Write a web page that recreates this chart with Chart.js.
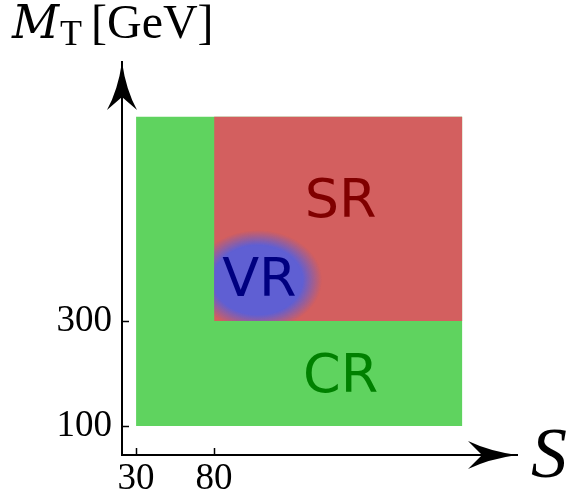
<!DOCTYPE html>
<html>
<head>
<meta charset="utf-8">
<script src="https://cdn.jsdelivr.net/npm/chart.js@4.4.0/dist/chart.umd.min.js"></script>
<style>
  html, body { margin: 0; padding: 0; background: #fff; }
</style>
</head>
<body>
<canvas id="regions" width="571" height="501"></canvas>
<script>
// axis ranges in data units (the arrow tips sit at the max)
const xRange = [21, 274];
const yRange = [45, 793];
const xTicks = [30, 80];
const yTicks = [100, 300];

// regions: [xMin, xMax, yMin, yMax]
const crBox = [30, 239, 100, 689];
const srBox = [80, 239, 300, 689];
const vrCenter = [108, 378];

// region names and where they are written
const labelText = ['SR', 'VR', 'CR'];
const labelX = [161, 109, 161];
const labelY = [525, 374, 191];

const GREEN = '#5fd35f';
const RED = '#d35f5f';
const labelColors = ['#800000', '#000080', '#008000'];

// soft elliptical glow used as the point style of the VR dataset
function makeGlow() {
    const c = document.createElement('canvas');
    c.width = 140;
    c.height = 112;
    const g = c.getContext('2d');
    g.translate(70, 56);
    g.scale(1, 42 / 54);
    const grad = g.createRadialGradient(0, 0, 0, 0, 0, 64);
    grad.addColorStop(0, 'rgba(95,95,211,1)');
    grad.addColorStop(0.7, 'rgba(95,95,211,1)');
    grad.addColorStop(1, 'rgba(95,95,211,0)');
    g.fillStyle = grad;
    g.fillRect(-70, -72, 140, 144);
    return c;
}

const decorations = {
    id: 'decorations',
    beforeDatasetDraw(chart, args) {
        if (args.index !== 2) return;
        // keep the VR glow inside the SR box
        const { x, y } = chart.scales;
        const ctx = chart.ctx;
        const l = x.getPixelForValue(srBox[0]), r = x.getPixelForValue(srBox[1]);
        const t = y.getPixelForValue(srBox[3]), b = y.getPixelForValue(srBox[2]);
        ctx.save();
        ctx.beginPath();
        ctx.rect(l, t, r - l, b - t);
        ctx.clip();
    },
    afterDatasetDraw(chart, args) {
        if (args.index === 2) chart.ctx.restore();
    },
    afterDraw(chart) {
        const ctx = chart.ctx;
        const { x, y } = chart.scales;
        const area = chart.chartArea;
        ctx.save();

        // inward tick marks
        ctx.strokeStyle = '#000';
        ctx.lineWidth = 1.5;
        xTicks.forEach(v => {
            const px = Math.round(x.getPixelForValue(v)) + 0.5;
            ctx.beginPath();
            ctx.moveTo(px, area.bottom);
            ctx.lineTo(px, area.bottom - 7);
            ctx.stroke();
        });
        yTicks.forEach(v => {
            const py = Math.round(y.getPixelForValue(v)) + 0.5;
            ctx.beginPath();
            ctx.moveTo(area.left, py);
            ctx.lineTo(area.left + 7, py);
            ctx.stroke();
        });

        // arrow heads
        ctx.fillStyle = '#000';
        const up = [area.left, area.top];
        ctx.beginPath();
        ctx.moveTo(up[0], up[1]);
        ctx.quadraticCurveTo(up[0] - 4, up[1] + 28, up[0] - 15, up[1] + 48);
        ctx.lineTo(up[0], up[1] + 35);
        ctx.lineTo(up[0] + 15, up[1] + 48);
        ctx.quadraticCurveTo(up[0] + 4, up[1] + 28, up[0], up[1]);
        ctx.fill();
        const rt = [area.right, area.bottom];
        ctx.beginPath();
        ctx.moveTo(rt[0], rt[1]);
        ctx.quadraticCurveTo(rt[0] - 28, rt[1] - 4, rt[0] - 49, rt[1] - 14);
        ctx.lineTo(rt[0] - 35, rt[1]);
        ctx.lineTo(rt[0] - 49, rt[1] + 14);
        ctx.quadraticCurveTo(rt[0] - 28, rt[1] + 4, rt[0], rt[1]);
        ctx.fill();

        // region names
        ctx.textAlign = 'center';
        ctx.textBaseline = 'middle';
        ctx.font = '54px "DejaVu Sans"';
        labelText.forEach((t, i) => {
            ctx.fillStyle = labelColors[i];
            ctx.fillText(t, x.getPixelForValue(labelX[i]), y.getPixelForValue(labelY[i]));
        });

        // axis names
        ctx.fillStyle = '#000';
        ctx.textAlign = 'left';
        ctx.textBaseline = 'alphabetic';
        ctx.font = 'italic 46px "DejaVu Serif"';
        ctx.fillText('M', 12, 38);
        ctx.font = '36px "Liberation Serif"';
        ctx.fillText('T', 60, 45);
        ctx.font = '48px "Liberation Serif"';
        ctx.fillText('[GeV]', 91, 38);
        ctx.font = 'italic 72px "Liberation Serif"';
        ctx.textAlign = 'center';
        ctx.fillText('S', 549, 477);

        ctx.restore();
    }
};

const tickFont = { family: 'Liberation Serif', size: 37 };

new Chart(document.getElementById('regions'), {
    type: 'scatter',
    data: {
        datasets: [
            {
                label: 'CR',
                data: [{ x: crBox[0], y: crBox[3] }, { x: crBox[1], y: crBox[3] }],
                showLine: true,
                fill: { value: crBox[2] },
                backgroundColor: GREEN,
                borderColor: 'transparent',
                borderWidth: 0,
                pointRadius: 0,
                order: 3
            },
            {
                label: 'SR',
                data: [{ x: srBox[0], y: srBox[3] }, { x: srBox[1], y: srBox[3] }],
                showLine: true,
                fill: { value: srBox[2] },
                backgroundColor: RED,
                borderColor: 'transparent',
                borderWidth: 0,
                pointRadius: 0,
                order: 2
            },
            {
                label: 'VR',
                data: [{ x: vrCenter[0], y: vrCenter[1] }],
                pointStyle: makeGlow(),
                pointRadius: 60,
                pointHoverRadius: 60,
                pointBorderWidth: 0,
                order: 1
            }
        ]
    },
    options: {
        responsive: false,
        animation: false,
        events: [],
        layout: { autoPadding: false, padding: { top: 62, right: 54, left: 0, bottom: 0 } },
        plugins: { legend: { display: false }, tooltip: { enabled: false } },
        scales: {
            x: {
                type: 'linear',
                min: xRange[0],
                max: xRange[1],
                afterBuildTicks: s => { s.ticks = xTicks.map(v => ({ value: v })); },
                afterFit: s => { s.height = 46; },
                grid: { display: false, drawTicks: false, tickLength: 0 },
                border: { display: true, color: '#000', width: 2 },
                ticks: { font: tickFont, color: '#000', padding: 2, maxRotation: 0, autoSkip: false }
            },
            y: {
                type: 'linear',
                min: yRange[0],
                max: yRange[1],
                afterBuildTicks: s => { s.ticks = yTicks.map(v => ({ value: v })); },
                afterFit: s => { s.width = 122; },
                grid: { display: false, drawTicks: false, tickLength: 0 },
                border: { display: true, color: '#000', width: 2 },
                ticks: { font: tickFont, color: '#000', padding: 10, autoSkip: false }
            }
        }
    },
    plugins: [decorations]
});
</script>
</body>
</html>
